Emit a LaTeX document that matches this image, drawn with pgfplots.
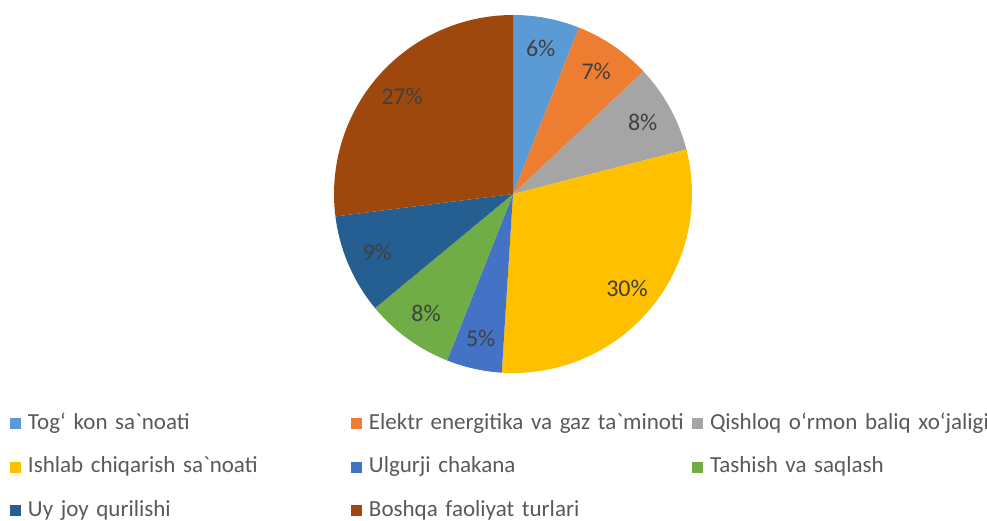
\documentclass[border=0pt]{standalone}
\usepackage{pgfplots}
\pgfplotsset{compat=1.18}
\usepackage{fontspec}
\setmainfont{Carlito}
\definecolor{c1}{HTML}{5B9BD5}
\definecolor{c2}{HTML}{ED7D31}
\definecolor{c3}{HTML}{A5A5A5}
\definecolor{c4}{HTML}{FFC000}
\definecolor{c5}{HTML}{4472C4}
\definecolor{c6}{HTML}{70AD47}
\definecolor{c7}{HTML}{255E91}
\definecolor{c8}{HTML}{9E480E}
\definecolor{lblgray}{HTML}{404040}
\definecolor{leggray}{HTML}{595959}
\newcommand{\lblfont}{\fontsize{24}{28}\selectfont}
\def\cx{513}\def\cy{326}\def\R{179}\def\Rl{148}
\gdef\cum{0}
\newcommand{\slice}[3]{%
  \pgfmathsetmacro{\sa}{90-3.6*\cum}%
  \pgfmathsetmacro{\sb}{90-3.6*(\cum+#1)}%
  \pgfmathsetmacro{\sm}{(\sa+\sb)/2}%
  \pgfmathsetmacro{\lx}{\cx+\Rl*cos(\sm)}%
  \pgfmathsetmacro{\ly}{\cy+\Rl*sin(\sm)}%
  \edef\temp{%
    \noexpand\addplot[fill=#2, draw=none, domain=\sb:\sa, samples=80]
      ({\cx+\R*cos(x)},{\cy+\R*sin(x)}) -- (axis cs:\cx,\cy) -- cycle;
    \noexpand\addlegendentry{\unexpanded{#3}}%
    \noexpand\node[text=lblgray, font=\noexpand\lblfont] at (axis cs:\lx,\ly) {#1\noexpand\%};
  }\temp
  \pgfmathsetmacro{\tmp}{\cum+#1}\xdef\cum{\tmp}%
}
\begin{document}
\begin{tikzpicture}
\begin{axis}[
  width=987pt, height=520pt, scale only axis,
  xmin=0, xmax=987, ymin=0, ymax=520,
  hide axis, clip=false,
  legend columns=3,
  legend image code/.code={\path[#1] (0pt,-5.5pt) rectangle (11pt,5.5pt);},
  legend style={draw=none, fill=none, at={(axis cs:10,107)}, anchor=north west,
    inner sep=0pt, outer sep=0pt, font=\fontsize{23}{27}\selectfont, text=leggray,
    row sep=22.5pt, column sep=0pt,
    nodes={text width=316pt, inner xsep=7pt, inner ysep=0pt, text height=16pt, text depth=5pt, align=left}},
]
\coordinate (bl) at (rel axis cs:0,0);
\coordinate (tr) at (rel axis cs:1,1);
\slice{6}{c1}{Tog‘ kon sa\textasciigrave noati}
\slice{7}{c2}{Elektr energitika va gaz ta\textasciigrave minoti}
\slice{8}{c3}{Qishloq o‘rmon baliq xo‘jaligi}
\slice{30}{c4}{Ishlab chiqarish sa\textasciigrave noati}
\slice{5}{c5}{Ulgurji chakana}
\slice{8}{c6}{Tashish va saqlash}
\slice{9}{c7}{Uy joy qurilishi}
\slice{27}{c8}{Boshqa faoliyat turlari}
\end{axis}
\pgfresetboundingbox
\path (bl) rectangle (tr);
\end{tikzpicture}
\end{document}
